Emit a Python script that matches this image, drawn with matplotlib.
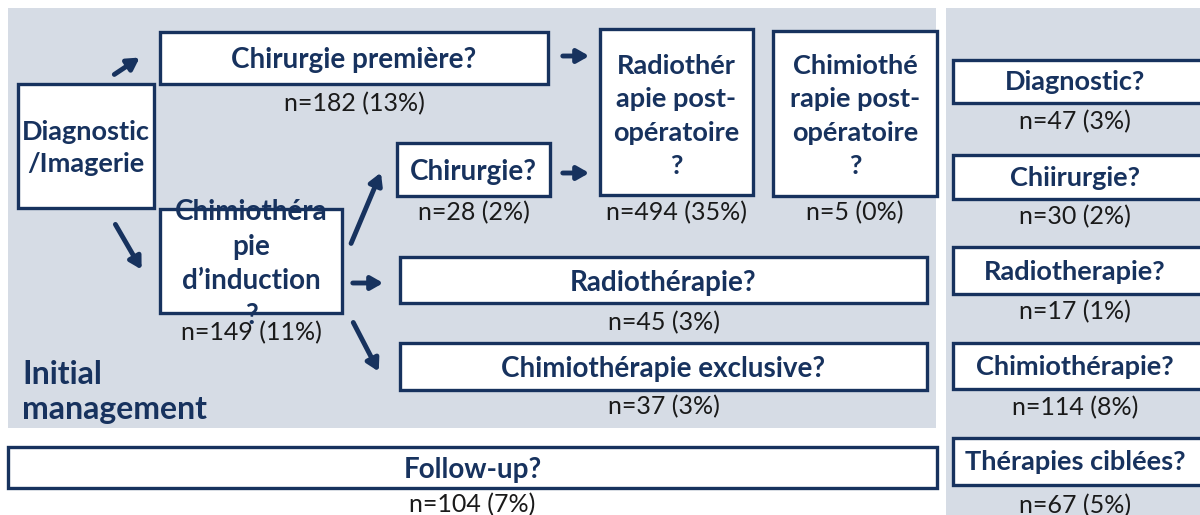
import matplotlib.pyplot as plt
from matplotlib.patches import Rectangle

# box labels and counts
main_labels = ["Diagnostic\n/Imagerie", "Chirurgie première?", "Chimiothéra\npie\nd’induction\n?",
               "Chirurgie?", "Radiothér\napie post-\nopératoire\n?", "Chimiothé\nrapie post-\nopératoire\n?",
               "Radiothérapie?", "Chimiothérapie exclusive?", "Follow-up?"]
main_n = [None, 182, 149, 28, 494, 5, 45, 37, 104]
main_pct = [None, 13, 11, 2, 35, 0, 3, 3, 7]

side_labels = ["Diagnostic?", "Chiirurgie?", "Radiotherapie?", "Chimiothérapie?", "Thérapies ciblées?"]
side_n = [47, 30, 17, 114, 67]
side_pct = [3, 2, 1, 8, 5]

panel_title = "Initial\nmanagement"

NAVY = "#17325e"
GREY = "#d6dce5"
FONT = "Lato"

# layout, pixel coords (x0, y0, x1, y1)
main_boxes = [(18, 84, 154, 208), (160, 32, 548, 84), (160, 209, 342, 313),
              (397, 143, 550, 196), (600, 29, 753, 195), (773, 31, 937, 196),
              (400, 257, 927, 303), (400, 343, 927, 390), (8, 447, 937, 488)]
main_cy = [148, 60, 264, 172, 116, 116, 283, 369, 470]
main_lab_y = [None, 104, 333, 213, 213, 213, 323, 407, 505]
main_fs = [19.5, 20, 20, 20, 19.5, 19.5, 20, 20, 20]
main_ls = [1.38, 1.38, 1.42, 1.38, 1.48, 1.48, 1.38, 1.38, 1.38]
side_y = [(60, 103), (155, 199), (247, 294), (343, 389), (438, 485)]
side_lab_y = [122, 217, 312, 408, 506]
arrows = [((112, 76), (142, 56)), ((114, 222), (143, 272)), ((350, 246), (382, 170)),
          ((350, 283), (386, 283)), ((352, 320), (380, 374)),
          ((560, 56), (592, 56)), ((560, 173), (592, 173))]

fig = plt.figure(figsize=(12, 5.15), dpi=100)
ax = fig.add_axes([0, 0, 1, 1])
ax.set_xlim(0, 1200)
ax.set_ylim(515, 0)
ax.axis("off")

ax.add_patch(Rectangle((8, 8), 928, 420, facecolor=GREY, edgecolor="none"))
ax.add_patch(Rectangle((946, 8), 260, 510, facecolor=GREY, edgecolor="none"))

for (x0, y0, x1, y1), lab, n, p, cy, ly, fs, ls in zip(main_boxes, main_labels, main_n, main_pct,
                                                       main_cy, main_lab_y, main_fs, main_ls):
    ax.add_patch(Rectangle((x0, y0), x1 - x0, y1 - y0, facecolor="white", edgecolor=NAVY, lw=2.4))
    ax.text((x0 + x1) / 2, cy, lab, ha="center", va="center", color=NAVY, fontsize=fs,
            fontweight="bold", family=FONT, linespacing=ls)
    if n is not None:
        ax.text((x0 + x1) / 2, ly, f"n={n} ({p}%)", ha="center", va="center", color="#1a1a1a",
                fontsize=18, family=FONT)

for (y0, y1), lab, n, p, ly in zip(side_y, side_labels, side_n, side_pct, side_lab_y):
    ax.add_patch(Rectangle((953, y0), 260, y1 - y0, facecolor="white", edgecolor=NAVY, lw=2.4))
    ax.text(1075, (y0 + y1) / 2 + 1, lab, ha="center", va="center", color=NAVY, fontsize=19.5,
            fontweight="bold", family=FONT)
    ax.text(1075, ly, f"n={n} ({p}%)", ha="center", va="center", color="#1a1a1a",
            fontsize=18, family=FONT)

for (s, e) in arrows:
    ax.annotate("", xy=e, xytext=s,
                arrowprops=dict(arrowstyle="-|>,head_length=0.7,head_width=0.4", color=NAVY, lw=3.5))

ax.text(22, 392, panel_title, ha="left", va="center", color=NAVY, fontsize=23,
        fontweight="bold", family=FONT, linespacing=1.25)

fig.savefig("out.png", dpi=100)
